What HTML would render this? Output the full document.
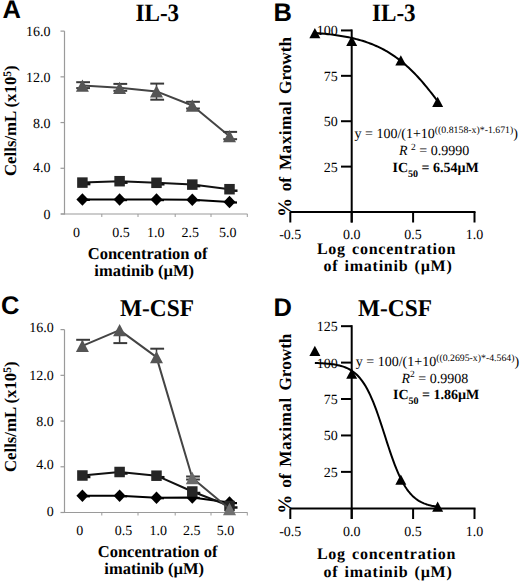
<!DOCTYPE html>
<html><head><meta charset="utf-8"><style>
html,body{margin:0;padding:0;background:#fff;width:520px;height:582px;overflow:hidden}
svg{display:block} text{text-rendering:geometricPrecision}

</style></head><body>
<svg width="520" height="582" viewBox="0 0 520 582"><line x1="64.50" y1="31.12" x2="64.50" y2="214.50" stroke="#9a9a9a" stroke-width="1.2"/>
<line x1="61.00" y1="214.00" x2="247.50" y2="214.00" stroke="#9a9a9a" stroke-width="1.2"/>
<line x1="60.50" y1="214.00" x2="64.50" y2="214.00" stroke="#9a9a9a" stroke-width="1.2"/>
<line x1="60.50" y1="168.28" x2="64.50" y2="168.28" stroke="#9a9a9a" stroke-width="1.2"/>
<line x1="60.50" y1="122.56" x2="64.50" y2="122.56" stroke="#9a9a9a" stroke-width="1.2"/>
<line x1="60.50" y1="76.84" x2="64.50" y2="76.84" stroke="#9a9a9a" stroke-width="1.2"/>
<line x1="60.50" y1="31.12" x2="64.50" y2="31.12" stroke="#9a9a9a" stroke-width="1.2"/>
<line x1="101.80" y1="214.00" x2="101.80" y2="217.00" stroke="#9a9a9a" stroke-width="1"/>
<line x1="138.00" y1="214.00" x2="138.00" y2="217.00" stroke="#9a9a9a" stroke-width="1"/>
<line x1="175.20" y1="214.00" x2="175.20" y2="217.00" stroke="#9a9a9a" stroke-width="1"/>
<line x1="211.00" y1="214.00" x2="211.00" y2="217.00" stroke="#9a9a9a" stroke-width="1"/>
<line x1="247.30" y1="214.00" x2="247.30" y2="217.00" stroke="#9a9a9a" stroke-width="1"/>
<text x="50.5" y="36.120000000000005" font-family="Liberation Serif" font-size="14" font-weight="normal" text-anchor="end" >16.0</text>
<text x="50.5" y="81.84" font-family="Liberation Serif" font-size="14" font-weight="normal" text-anchor="end" >12.0</text>
<text x="50.5" y="127.56" font-family="Liberation Serif" font-size="14" font-weight="normal" text-anchor="end" >8.0</text>
<text x="50.5" y="172.28" font-family="Liberation Serif" font-size="14" font-weight="normal" text-anchor="end" >4.0</text>
<text x="50.5" y="219.0" font-family="Liberation Serif" font-size="14" font-weight="normal" text-anchor="end" >0</text>
<text x="76.5" y="236.5" font-family="Liberation Serif" font-size="14" font-weight="normal" text-anchor="middle" >0</text>
<text x="120.9" y="236.5" font-family="Liberation Serif" font-size="14" font-weight="normal" text-anchor="middle" >0.5</text>
<text x="155.8" y="236.5" font-family="Liberation Serif" font-size="14" font-weight="normal" text-anchor="middle" >1.0</text>
<text x="190.2" y="236.5" font-family="Liberation Serif" font-size="14" font-weight="normal" text-anchor="middle" >2.5</text>
<text x="227.8" y="236.5" font-family="Liberation Serif" font-size="14" font-weight="normal" text-anchor="middle" >5.0</text>
<polyline points="82.40,199.40 119.60,199.60 156.50,199.60 192.30,199.80 229.50,202.00" fill="none" stroke="#000" stroke-width="2" stroke-linejoin="round"/>
<line x1="86.40" y1="199.90" x2="89.90" y2="199.90" stroke="#000" stroke-width="2.2"/>
<polygon points="82.40,193.15 88.40,199.40 82.40,205.65 76.40,199.40" fill="#000"/>
<line x1="123.60" y1="200.10" x2="127.10" y2="200.10" stroke="#000" stroke-width="2.2"/>
<polygon points="119.60,193.35 125.60,199.60 119.60,205.85 113.60,199.60" fill="#000"/>
<line x1="160.50" y1="200.10" x2="164.00" y2="200.10" stroke="#000" stroke-width="2.2"/>
<polygon points="156.50,193.35 162.50,199.60 156.50,205.85 150.50,199.60" fill="#000"/>
<line x1="196.30" y1="200.30" x2="199.80" y2="200.30" stroke="#000" stroke-width="2.2"/>
<polygon points="192.30,193.55 198.30,199.80 192.30,206.05 186.30,199.80" fill="#000"/>
<line x1="233.50" y1="202.50" x2="237.00" y2="202.50" stroke="#000" stroke-width="2.2"/>
<polygon points="229.50,195.75 235.50,202.00 229.50,208.25 223.50,202.00" fill="#000"/>
<polyline points="82.40,182.60 119.60,181.20 156.50,182.80 192.30,184.60 229.50,189.20" fill="none" stroke="#111" stroke-width="2" stroke-linejoin="round"/>
<line x1="86.40" y1="184.10" x2="90.40" y2="184.10" stroke="#111" stroke-width="2.5"/>
<rect x="77.15" y="177.35" width="10.5" height="10.5" fill="#262626"/>
<line x1="123.60" y1="182.70" x2="127.60" y2="182.70" stroke="#111" stroke-width="2.5"/>
<rect x="114.35" y="175.95" width="10.5" height="10.5" fill="#262626"/>
<line x1="160.50" y1="184.30" x2="164.50" y2="184.30" stroke="#111" stroke-width="2.5"/>
<rect x="151.25" y="177.55" width="10.5" height="10.5" fill="#262626"/>
<line x1="196.30" y1="186.10" x2="200.30" y2="186.10" stroke="#111" stroke-width="2.5"/>
<rect x="187.05" y="179.35" width="10.5" height="10.5" fill="#262626"/>
<line x1="233.50" y1="190.70" x2="237.50" y2="190.70" stroke="#111" stroke-width="2.5"/>
<rect x="224.25" y="183.95" width="10.5" height="10.5" fill="#262626"/>
<polyline points="82.40,85.60 119.60,87.80 156.50,91.40 192.30,105.50 229.50,136.20" fill="none" stroke="#444" stroke-width="2" stroke-linejoin="round"/>
<line x1="82.40" y1="85.60" x2="82.40" y2="82.20" stroke="#3a3a3a" stroke-width="1.5"/>
<line x1="76.20" y1="82.20" x2="90.00" y2="82.20" stroke="#3a3a3a" stroke-width="2"/>
<line x1="82.40" y1="85.60" x2="82.40" y2="88.10" stroke="#3a3a3a" stroke-width="1.5"/>
<line x1="76.20" y1="88.10" x2="90.00" y2="88.10" stroke="#3a3a3a" stroke-width="2"/>
<polygon points="75.90,91.75 88.90,91.75 82.40,79.45" fill="#555"/>
<line x1="119.60" y1="87.80" x2="119.60" y2="83.90" stroke="#3a3a3a" stroke-width="1.5"/>
<line x1="113.40" y1="83.90" x2="127.20" y2="83.90" stroke="#3a3a3a" stroke-width="2"/>
<line x1="119.60" y1="87.80" x2="119.60" y2="90.80" stroke="#3a3a3a" stroke-width="1.5"/>
<line x1="113.40" y1="90.80" x2="127.20" y2="90.80" stroke="#3a3a3a" stroke-width="2"/>
<polygon points="113.10,93.95 126.10,93.95 119.60,81.65" fill="#555"/>
<line x1="156.50" y1="91.40" x2="156.50" y2="83.60" stroke="#3a3a3a" stroke-width="1.5"/>
<line x1="150.30" y1="83.60" x2="164.10" y2="83.60" stroke="#3a3a3a" stroke-width="2"/>
<line x1="156.50" y1="91.40" x2="156.50" y2="99.70" stroke="#3a3a3a" stroke-width="1.5"/>
<line x1="150.30" y1="99.70" x2="164.10" y2="99.70" stroke="#3a3a3a" stroke-width="2"/>
<polygon points="150.00,97.55 163.00,97.55 156.50,85.25" fill="#555"/>
<line x1="192.30" y1="105.50" x2="192.30" y2="101.80" stroke="#3a3a3a" stroke-width="1.5"/>
<line x1="186.10" y1="101.80" x2="199.90" y2="101.80" stroke="#3a3a3a" stroke-width="2"/>
<line x1="192.30" y1="105.50" x2="192.30" y2="108.50" stroke="#3a3a3a" stroke-width="1.5"/>
<line x1="186.10" y1="108.50" x2="199.90" y2="108.50" stroke="#3a3a3a" stroke-width="2"/>
<polygon points="185.80,111.65 198.80,111.65 192.30,99.35" fill="#555"/>
<line x1="229.50" y1="136.20" x2="229.50" y2="131.90" stroke="#3a3a3a" stroke-width="1.5"/>
<line x1="223.30" y1="131.90" x2="237.10" y2="131.90" stroke="#3a3a3a" stroke-width="2"/>
<line x1="229.50" y1="136.20" x2="229.50" y2="139.20" stroke="#3a3a3a" stroke-width="1.5"/>
<line x1="223.30" y1="139.20" x2="237.10" y2="139.20" stroke="#3a3a3a" stroke-width="2"/>
<polygon points="223.00,142.35 236.00,142.35 229.50,130.05" fill="#555"/>
<text transform="translate(135.5,20.6) scale(0.924,1)" font-family="Liberation Serif" font-size="25" font-weight="bold">IL-3</text>
<text x="2.5" y="18" font-family="Liberation Sans" font-size="25.5" font-weight="bold" text-anchor="start" >A</text>
<text x="147.6" y="259" font-family="Liberation Serif" font-size="16.5" font-weight="bold" text-anchor="middle" >Concentration of</text>
<text x="144.2" y="276" font-family="Liberation Serif" font-size="16.5" font-weight="bold" text-anchor="middle" >imatinib (µM)</text>
<text transform="translate(16,120.7) rotate(-90)" font-family="Liberation Serif" font-size="16.8" font-weight="bold" text-anchor="middle">Cells/mL (x10<tspan font-size="11.5" dy="-5.2">5</tspan><tspan dy="5.2">)</tspan></text>
<line x1="64.50" y1="329.62" x2="64.50" y2="513.00" stroke="#9a9a9a" stroke-width="1.2"/>
<line x1="61.00" y1="512.50" x2="247.50" y2="512.50" stroke="#9a9a9a" stroke-width="1.2"/>
<line x1="60.50" y1="512.50" x2="64.50" y2="512.50" stroke="#9a9a9a" stroke-width="1.2"/>
<line x1="60.50" y1="466.78" x2="64.50" y2="466.78" stroke="#9a9a9a" stroke-width="1.2"/>
<line x1="60.50" y1="421.06" x2="64.50" y2="421.06" stroke="#9a9a9a" stroke-width="1.2"/>
<line x1="60.50" y1="375.34" x2="64.50" y2="375.34" stroke="#9a9a9a" stroke-width="1.2"/>
<line x1="60.50" y1="329.62" x2="64.50" y2="329.62" stroke="#9a9a9a" stroke-width="1.2"/>
<line x1="101.80" y1="512.50" x2="101.80" y2="515.50" stroke="#9a9a9a" stroke-width="1"/>
<line x1="138.00" y1="512.50" x2="138.00" y2="515.50" stroke="#9a9a9a" stroke-width="1"/>
<line x1="175.20" y1="512.50" x2="175.20" y2="515.50" stroke="#9a9a9a" stroke-width="1"/>
<line x1="211.00" y1="512.50" x2="211.00" y2="515.50" stroke="#9a9a9a" stroke-width="1"/>
<line x1="247.30" y1="512.50" x2="247.30" y2="515.50" stroke="#9a9a9a" stroke-width="1"/>
<text x="53.7" y="331.62" font-family="Liberation Serif" font-size="14" font-weight="normal" text-anchor="end" >16.0</text>
<text x="53.7" y="380.34000000000003" font-family="Liberation Serif" font-size="14" font-weight="normal" text-anchor="end" >12.0</text>
<text x="53.7" y="426.06" font-family="Liberation Serif" font-size="14" font-weight="normal" text-anchor="end" >8.0</text>
<text x="53.7" y="468.97999999999996" font-family="Liberation Serif" font-size="14" font-weight="normal" text-anchor="end" >4.0</text>
<text x="53.7" y="516.2" font-family="Liberation Serif" font-size="14" font-weight="normal" text-anchor="end" >0</text>
<text x="79.8" y="535.0" font-family="Liberation Serif" font-size="14" font-weight="normal" text-anchor="middle" >0</text>
<text x="123.5" y="535.0" font-family="Liberation Serif" font-size="14" font-weight="normal" text-anchor="middle" >0.5</text>
<text x="158.3" y="535.0" font-family="Liberation Serif" font-size="14" font-weight="normal" text-anchor="middle" >1.0</text>
<text x="191.8" y="535.0" font-family="Liberation Serif" font-size="14" font-weight="normal" text-anchor="middle" >2.5</text>
<text x="225.4" y="535.0" font-family="Liberation Serif" font-size="14" font-weight="normal" text-anchor="middle" >5.0</text>
<polyline points="82.40,495.80 119.60,495.80 156.50,497.70 192.30,497.40 229.50,502.60" fill="none" stroke="#000" stroke-width="2" stroke-linejoin="round"/>
<line x1="86.40" y1="496.30" x2="89.90" y2="496.30" stroke="#000" stroke-width="2.2"/>
<polygon points="82.40,489.55 88.40,495.80 82.40,502.05 76.40,495.80" fill="#000"/>
<line x1="123.60" y1="496.30" x2="127.10" y2="496.30" stroke="#000" stroke-width="2.2"/>
<polygon points="119.60,489.55 125.60,495.80 119.60,502.05 113.60,495.80" fill="#000"/>
<line x1="160.50" y1="498.20" x2="164.00" y2="498.20" stroke="#000" stroke-width="2.2"/>
<polygon points="156.50,491.45 162.50,497.70 156.50,503.95 150.50,497.70" fill="#000"/>
<line x1="196.30" y1="497.90" x2="199.80" y2="497.90" stroke="#000" stroke-width="2.2"/>
<polygon points="192.30,491.15 198.30,497.40 192.30,503.65 186.30,497.40" fill="#000"/>
<line x1="233.50" y1="503.10" x2="237.00" y2="503.10" stroke="#000" stroke-width="2.2"/>
<polygon points="229.50,496.35 235.50,502.60 229.50,508.85 223.50,502.60" fill="#000"/>
<polyline points="82.40,475.50 119.60,472.00 156.50,475.70 192.30,491.50 229.50,506.00" fill="none" stroke="#111" stroke-width="2" stroke-linejoin="round"/>
<line x1="86.40" y1="477.00" x2="90.40" y2="477.00" stroke="#111" stroke-width="2.5"/>
<rect x="77.15" y="470.25" width="10.5" height="10.5" fill="#262626"/>
<line x1="123.60" y1="473.50" x2="127.60" y2="473.50" stroke="#111" stroke-width="2.5"/>
<rect x="114.35" y="466.75" width="10.5" height="10.5" fill="#262626"/>
<line x1="160.50" y1="477.20" x2="164.50" y2="477.20" stroke="#111" stroke-width="2.5"/>
<rect x="151.25" y="470.45" width="10.5" height="10.5" fill="#262626"/>
<line x1="196.30" y1="493.00" x2="200.30" y2="493.00" stroke="#111" stroke-width="2.5"/>
<rect x="187.05" y="486.25" width="10.5" height="10.5" fill="#262626"/>
<line x1="233.50" y1="507.50" x2="237.50" y2="507.50" stroke="#111" stroke-width="2.5"/>
<rect x="224.25" y="500.75" width="10.5" height="10.5" fill="#262626"/>
<polyline points="82.40,345.80 119.60,330.10 156.50,357.10 192.30,478.00 229.50,509.00" fill="none" stroke="#444" stroke-width="2" stroke-linejoin="round"/>
<line x1="82.40" y1="345.80" x2="82.40" y2="339.80" stroke="#3a3a3a" stroke-width="1.5"/>
<line x1="76.20" y1="339.80" x2="90.00" y2="339.80" stroke="#3a3a3a" stroke-width="2"/>
<polygon points="75.90,351.95 88.90,351.95 82.40,339.65" fill="#555"/>
<line x1="119.60" y1="330.10" x2="119.60" y2="343.10" stroke="#3a3a3a" stroke-width="1.5"/>
<line x1="113.40" y1="343.10" x2="127.20" y2="343.10" stroke="#3a3a3a" stroke-width="2"/>
<polygon points="113.10,336.25 126.10,336.25 119.60,323.95" fill="#555"/>
<line x1="156.50" y1="357.10" x2="156.50" y2="348.70" stroke="#3a3a3a" stroke-width="1.5"/>
<line x1="150.30" y1="348.70" x2="164.10" y2="348.70" stroke="#3a3a3a" stroke-width="2"/>
<polygon points="150.00,363.25 163.00,363.25 156.50,350.95" fill="#555"/>
<line x1="192.30" y1="478.00" x2="192.30" y2="476.50" stroke="#3a3a3a" stroke-width="1.5"/>
<line x1="186.10" y1="476.50" x2="199.90" y2="476.50" stroke="#3a3a3a" stroke-width="2"/>
<line x1="192.30" y1="478.00" x2="192.30" y2="479.50" stroke="#3a3a3a" stroke-width="1.5"/>
<line x1="186.10" y1="479.50" x2="199.90" y2="479.50" stroke="#3a3a3a" stroke-width="2"/>
<polygon points="185.80,484.15 198.80,484.15 192.30,471.85" fill="#6a6a6a"/>
<polygon points="223.00,515.15 236.00,515.15 229.50,502.85" fill="#707070"/>
<text transform="translate(120,315.5) scale(0.973,1)" font-family="Liberation Serif" font-size="24" font-weight="bold">M-CSF</text>
<text x="1" y="314.3" font-family="Liberation Sans" font-size="25.5" font-weight="bold" text-anchor="start" >C</text>
<text x="157.6" y="556.5" font-family="Liberation Serif" font-size="16.5" font-weight="bold" text-anchor="middle" >Concentration of</text>
<text x="154.2" y="573.5" font-family="Liberation Serif" font-size="16.5" font-weight="bold" text-anchor="middle" >imatinib (µM)</text>
<text transform="translate(16,416.75) rotate(-90)" font-family="Liberation Serif" font-size="16.8" font-weight="bold" text-anchor="middle">Cells/mL (x10<tspan font-size="11.5" dy="-5.2">5</tspan><tspan dy="5.2">)</tspan></text>
<line x1="351.70" y1="29.44" x2="351.70" y2="222.50" stroke="#000" stroke-width="2"/>
<line x1="290.30" y1="212.00" x2="475.50" y2="212.00" stroke="#000" stroke-width="2"/>
<line x1="341.00" y1="166.61" x2="351.70" y2="166.61" stroke="#000" stroke-width="2"/>
<text x="337.8" y="171.61" font-family="Liberation Serif" font-size="14" font-weight="normal" text-anchor="end" >25</text>
<line x1="341.00" y1="121.22" x2="351.70" y2="121.22" stroke="#000" stroke-width="2"/>
<text x="337.8" y="126.22" font-family="Liberation Serif" font-size="14" font-weight="normal" text-anchor="end" >50</text>
<line x1="341.00" y1="75.83" x2="351.70" y2="75.83" stroke="#000" stroke-width="2"/>
<text x="337.8" y="80.82999999999998" font-family="Liberation Serif" font-size="14" font-weight="normal" text-anchor="end" >75</text>
<line x1="341.00" y1="30.44" x2="351.70" y2="30.44" stroke="#000" stroke-width="2"/>
<text x="337.8" y="35.44" font-family="Liberation Serif" font-size="14" font-weight="normal" text-anchor="end" >100</text>
<line x1="290.30" y1="212.00" x2="290.30" y2="222.50" stroke="#000" stroke-width="2"/>
<text x="290.3" y="239.0" font-family="Liberation Serif" font-size="14" font-weight="normal" text-anchor="middle" >-0.5</text>
<line x1="351.70" y1="212.00" x2="351.70" y2="222.50" stroke="#000" stroke-width="2"/>
<text x="351.7" y="239.0" font-family="Liberation Serif" font-size="14" font-weight="normal" text-anchor="middle" >0.0</text>
<line x1="413.10" y1="212.00" x2="413.10" y2="222.50" stroke="#000" stroke-width="2"/>
<text x="413.09999999999997" y="239.0" font-family="Liberation Serif" font-size="14" font-weight="normal" text-anchor="middle" >0.5</text>
<line x1="474.50" y1="212.00" x2="474.50" y2="222.50" stroke="#000" stroke-width="2"/>
<text x="474.5" y="239.0" font-family="Liberation Serif" font-size="14" font-weight="normal" text-anchor="middle" >1.0</text>
<polyline points="314.86,32.89 316.39,33.01 317.93,33.13 319.46,33.26 321.00,33.40 322.53,33.54 324.07,33.69 325.61,33.85 327.14,34.01 328.68,34.19 330.21,34.37 331.75,34.55 333.28,34.75 334.81,34.96 336.35,35.18 337.88,35.40 339.42,35.64 340.95,35.89 342.49,36.15 344.02,36.42 345.56,36.71 347.09,37.00 348.63,37.32 350.16,37.64 351.70,37.98 353.24,38.34 354.77,38.71 356.31,39.10 357.84,39.50 359.38,39.92 360.91,40.36 362.44,40.83 363.98,41.31 365.51,41.81 367.05,42.33 368.58,42.88 370.12,43.45 371.65,44.04 373.19,44.66 374.72,45.30 376.26,45.97 377.79,46.67 379.33,47.39 380.87,48.15 382.40,48.93 383.94,49.74 385.47,50.59 387.00,51.47 388.54,52.38 390.07,53.32 391.61,54.30 393.14,55.32 394.68,56.37 396.21,57.45 397.75,58.58 399.28,59.74 400.82,60.94 402.36,62.18 403.89,63.46 405.43,64.78 406.96,66.14 408.50,67.54 410.03,68.98 411.56,70.46 413.10,71.98 414.63,73.54 416.17,75.14 417.70,76.78 419.24,78.46 420.77,80.18 422.31,81.94 423.84,83.73 425.38,85.56 426.91,87.42 428.45,89.32 429.99,91.25 431.52,93.21 433.06,95.20 434.59,97.21 436.12,99.26 437.66,101.32" fill="none" stroke="#000" stroke-width="2" stroke-linejoin="round"/>
<polygon points="309.36,38.26 320.36,38.26 314.86,28.06" fill="#000"/>
<polygon points="346.20,45.89 357.20,45.89 351.70,35.69" fill="#000"/>
<polygon points="395.32,65.50 406.32,65.50 400.82,55.30" fill="#000"/>
<polygon points="432.16,107.07 443.16,107.07 437.66,96.87" fill="#000"/>
<text x="273.5" y="20.7" font-family="Liberation Sans" font-size="25.5" font-weight="bold" text-anchor="start" >B</text>
<text transform="translate(372,20.6) scale(0.924,1)" font-family="Liberation Serif" font-size="25" font-weight="bold">IL-3</text>
<text x="354.5" y="137.5" font-family="Liberation Serif" font-size="14">y = 100/(1+10<tspan font-size="9.8" dy="-5">((0.8158-x)*-1.671)</tspan><tspan dy="5">)</tspan></text>
<text x="399" y="155.2" font-family="Liberation Serif" font-size="14"><tspan font-style="italic">R</tspan> <tspan font-size="9.5" dy="-5.5">2</tspan><tspan dy="5.5"> = 0.9990</tspan></text>
<text x="392.5" y="171.7" font-family="Liberation Serif" font-size="14" font-weight="bold">IC<tspan font-size="10" dy="5">50</tspan><tspan dy="-5"> = 6.54µM</tspan></text>
<text transform="translate(290.8,127) rotate(-90)" font-family="Liberation Serif" font-size="17.2" font-weight="bold" text-anchor="middle" word-spacing="2.5"><tspan font-size="19">%</tspan> of <tspan letter-spacing="0.5">Maximal</tspan> Growth</text>
<text x="386.5" y="253.6" font-family="Liberation Serif" font-size="16" font-weight="bold" text-anchor="middle" letter-spacing="0.75" word-spacing="1.5">Log concentration</text>
<text x="388" y="271.4" font-family="Liberation Serif" font-size="16" font-weight="bold" text-anchor="middle" letter-spacing="0.75" word-spacing="1.5">of imatinib (µM)</text>
<line x1="351.70" y1="325.18" x2="351.70" y2="519.00" stroke="#000" stroke-width="2"/>
<line x1="290.30" y1="508.50" x2="475.50" y2="508.50" stroke="#000" stroke-width="2"/>
<line x1="341.00" y1="471.88" x2="351.70" y2="471.88" stroke="#000" stroke-width="2"/>
<text x="337.8" y="476.875" font-family="Liberation Serif" font-size="14" font-weight="normal" text-anchor="end" >25</text>
<line x1="341.00" y1="435.45" x2="351.70" y2="435.45" stroke="#000" stroke-width="2"/>
<text x="337.8" y="440.45" font-family="Liberation Serif" font-size="14" font-weight="normal" text-anchor="end" >50</text>
<line x1="341.00" y1="399.02" x2="351.70" y2="399.02" stroke="#000" stroke-width="2"/>
<text x="337.8" y="404.025" font-family="Liberation Serif" font-size="14" font-weight="normal" text-anchor="end" >75</text>
<line x1="341.00" y1="362.60" x2="351.70" y2="362.60" stroke="#000" stroke-width="2"/>
<text x="337.8" y="367.6" font-family="Liberation Serif" font-size="14" font-weight="normal" text-anchor="end" >100</text>
<line x1="341.00" y1="326.18" x2="351.70" y2="326.18" stroke="#000" stroke-width="2"/>
<text x="337.8" y="331.175" font-family="Liberation Serif" font-size="14" font-weight="normal" text-anchor="end" >125</text>
<line x1="290.30" y1="508.50" x2="290.30" y2="519.00" stroke="#000" stroke-width="2"/>
<text x="290.3" y="535.5" font-family="Liberation Serif" font-size="14" font-weight="normal" text-anchor="middle" >-0.5</text>
<line x1="351.70" y1="508.50" x2="351.70" y2="519.00" stroke="#000" stroke-width="2"/>
<text x="351.7" y="535.5" font-family="Liberation Serif" font-size="14" font-weight="normal" text-anchor="middle" >0.0</text>
<line x1="413.10" y1="508.50" x2="413.10" y2="519.00" stroke="#000" stroke-width="2"/>
<text x="413.09999999999997" y="535.5" font-family="Liberation Serif" font-size="14" font-weight="normal" text-anchor="middle" >0.5</text>
<line x1="474.50" y1="508.50" x2="474.50" y2="519.00" stroke="#000" stroke-width="2"/>
<text x="474.5" y="535.5" font-family="Liberation Serif" font-size="14" font-weight="normal" text-anchor="middle" >1.0</text>
<polyline points="314.86,362.97 316.39,363.02 317.93,363.08 319.46,363.14 321.00,363.22 322.53,363.30 324.07,363.40 325.61,363.51 327.14,363.64 328.68,363.79 330.21,363.95 331.75,364.14 333.28,364.35 334.81,364.59 336.35,364.87 337.88,365.18 339.42,365.54 340.95,365.94 342.49,366.40 344.02,366.92 345.56,367.50 347.09,368.16 348.63,368.91 350.16,369.75 351.70,370.70 353.24,371.77 354.77,372.96 356.31,374.30 357.84,375.80 359.38,377.46 360.91,379.31 362.44,381.35 363.98,383.60 365.51,386.08 367.05,388.78 368.58,391.72 370.12,394.90 371.65,398.32 373.19,401.98 374.72,405.87 376.26,409.97 377.79,414.26 379.33,418.72 380.87,423.31 382.40,428.01 383.94,432.77 385.47,437.55 387.00,442.32 388.54,447.03 390.07,451.64 391.61,456.11 393.14,460.43 394.68,464.55 396.21,468.46 397.75,472.15 399.28,475.60 400.82,478.81 402.36,481.78 403.89,484.51 405.43,487.01 406.96,489.29 408.50,491.36 410.03,493.23 411.56,494.91 413.10,496.43 414.63,497.78 416.17,499.00 417.70,500.08 419.24,501.04 420.77,501.89 422.31,502.65 423.84,503.32 425.38,503.92 426.91,504.44 428.45,504.91 429.99,505.32 431.52,505.68 433.06,505.99 434.59,506.27 436.12,506.52 437.66,506.74" fill="none" stroke="#000" stroke-width="2" stroke-linejoin="round"/>
<polygon points="309.36,355.90 320.36,355.90 314.86,345.70" fill="#000"/>
<polygon points="346.20,378.63 357.20,378.63 351.70,368.43" fill="#000"/>
<polygon points="395.32,484.70 406.32,484.70 400.82,474.50" fill="#000"/>
<polygon points="432.16,511.80 443.16,511.80 437.66,501.60" fill="#000"/>
<text x="273.5" y="316.2" font-family="Liberation Sans" font-size="25.5" font-weight="bold" text-anchor="start" >D</text>
<text transform="translate(358,316) scale(0.973,1)" font-family="Liberation Serif" font-size="24" font-weight="bold">M-CSF</text>
<text x="355.8" y="365.9" font-family="Liberation Serif" font-size="14">y = 100/(1+10<tspan font-size="9.8" dy="-5">((0.2695-x)*-4.564)</tspan><tspan dy="5">)</tspan></text>
<text x="401.5" y="382.8" font-family="Liberation Serif" font-size="14"><tspan font-style="italic">R</tspan><tspan font-size="9.5" dy="-5.5">2</tspan><tspan dy="5.5"> = 0.9908</tspan></text>
<text x="393" y="399.3" font-family="Liberation Serif" font-size="14" font-weight="bold">IC<tspan font-size="10" dy="5">50</tspan><tspan dy="-5"> = 1.86µM</tspan></text>
<text transform="translate(290.8,423.6) rotate(-90)" font-family="Liberation Serif" font-size="17.2" font-weight="bold" text-anchor="middle" word-spacing="2.5"><tspan font-size="19">%</tspan> of <tspan letter-spacing="0.5">Maximal</tspan> Growth</text>
<text x="386.5" y="558.8" font-family="Liberation Serif" font-size="16" font-weight="bold" text-anchor="middle" letter-spacing="0.75" word-spacing="1.5">Log concentration</text>
<text x="388" y="576.5999999999999" font-family="Liberation Serif" font-size="16" font-weight="bold" text-anchor="middle" letter-spacing="0.75" word-spacing="1.5">of imatinib (µM)</text></svg>
</body></html>
